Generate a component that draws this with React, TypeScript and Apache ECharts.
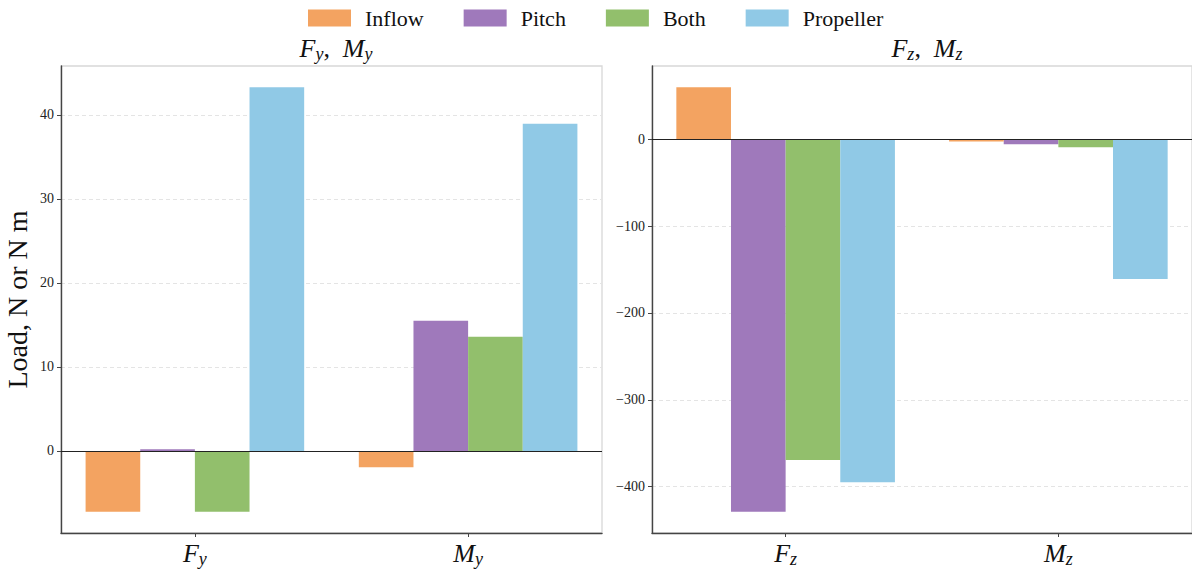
import React, { useEffect, useRef } from "react";
import * as echarts from "echarts";

const seriesNames = ["Inflow", "Pitch", "Both", "Propeller"];
const colors = ["#f3a361", "#9f79bb", "#92bf6c", "#90c9e6"];
const positions = [0, 1];
const leftLabels = [["F", "y"], ["M", "y"]];
const rightLabels = [["F", "z"], ["M", "z"]];

// Left panel (F_y, M_y)
const inflowLeft = [-7.25, -1.95];
const pitchLeft = [0.2, 15.5];
const bothLeft = [-7.25, 13.6];
const propellerLeft = [43.3, 38.95];

// Right panel (F_z, M_z)
const inflowRight = [60, -2.5];
const pitchRight = [-429, -5.7];
const bothRight = [-369.5, -9.2];
const propellerRight = [-395, -161];

const leftTicks = [0, 10, 20, 30, 40];
const rightTicks = [-400, -300, -200, -100, 0];

const FONT = "'Liberation Serif', serif";

function padExtent(arrs: number[][]) {
  const all = arrs.flat();
  let lo = Math.min(0, ...all);
  let hi = Math.max(0, ...all);
  const m = (hi - lo) * 0.05;
  return [lo - m, hi + m];
}

const richMath = {
  i: { fontFamily: FONT, fontStyle: "italic", fontWeight: "normal", fontSize: 26, color: "#111", lineHeight: 30, verticalAlign: "middle" },
  s: { fontFamily: FONT, fontStyle: "italic", fontWeight: "normal", fontSize: 18, color: "#111", lineHeight: 30, verticalAlign: "bottom" },
  c: { fontFamily: FONT, fontWeight: "normal", fontSize: 26, color: "#111", lineHeight: 30 },
};

export default function App() {
  const ref = useRef<HTMLDivElement>(null);
  useEffect(() => {
    if (!ref.current) return;
    const chart = echarts.init(ref.current, null, { renderer: "svg" });
    const leftExt = padExtent([inflowLeft, pitchLeft, bothLeft, propellerLeft]);
    const rightExt = padExtent([inflowRight, pitchRight, bothRight, propellerRight]);
    const xMin = -0.4 - 1.8 * 0.05;
    const xMax = 1.4 + 1.8 * 0.05;
    const barW = 541 * 0.2 / (xMax - xMin);

    const mkX = (gi: number, labels: string[][]) => ({
      type: "value",
      gridIndex: gi,
      min: xMin,
      max: xMax,
      splitLine: { show: false },
      axisLine: { show: true, onZero: false, lineStyle: { color: "#444", width: 1.4 } },
      axisTick: { show: true, customValues: positions, length: 4, lineStyle: { color: "#444", width: 1 } },
      axisLabel: {
        customValues: positions,
        margin: 5,
        fontFamily: FONT,
        formatter: (v: number) => {
          const idx = Math.round(v);
          const l = labels[idx];
          return l ? `{i|${l[0]}}{s|${l[1]}}` : "";
        },
        rich: richMath,
      },
    });
    const mkY = (gi: number, ext: number[], ticks: number[], withName: boolean) => ({
      type: "value",
      gridIndex: gi,
      min: ext[0],
      max: ext[1],
      name: withName ? "Load, N or N m" : "",
      nameLocation: "middle",
      nameGap: 30,
      nameRotate: 90,
      nameTextStyle: { fontFamily: FONT, fontSize: 28, color: "#111" },
      axisLine: { show: true, onZero: false, lineStyle: { color: "#444", width: 1.4 } },
      axisTick: { show: true, customValues: ticks, length: 4, lineStyle: { color: "#444", width: 1 } },
      axisLabel: {
        customValues: ticks,
        margin: 7,
        fontFamily: FONT,
        fontSize: 14,
        color: "#222",
        formatter: (v: number) => String(Math.round(v)).replace("-", "\u2212"),
      },
      splitLine: { show: true, lineStyle: { color: "#e4e4e4", type: [4, 3], width: 1 } },
    });

    const mkSeries = (gi: number, data: number[][]) =>
      data.map((vals, k) => ({
        name: seriesNames[k],
        type: "bar",
        xAxisIndex: gi,
        yAxisIndex: gi,
        barWidth: barW,
        barGap: "0%",
        itemStyle: { color: colors[k] },
        data: positions.map((p, j) => [p, vals[j]]),
        markLine:
          k === 0
            ? {
                silent: true,
                symbol: "none",
                label: { show: false },
                lineStyle: { color: "#222", width: 1.2, type: "solid" },
                data: [{ yAxis: 0 }],
              }
            : undefined,
        z: k === 0 ? 3 : 2,
      }));

    chart.setOption({
      animation: false,
      backgroundColor: "#fff",
      textStyle: { fontFamily: FONT },
      legend: {
        data: seriesNames,
        top: 2,
        left: 303,
        itemWidth: 43,
        itemHeight: 17,
        itemGap: 40,
        icon: "rect",
        textStyle: { fontFamily: FONT, fontSize: 22, color: "#111", padding: [0, 0, 0, 9] },
      },
      title: [
        {
          text: "{i|F}{s|y}{c|,  }{i|M}{s|y}",
          left: 331,
          top: 28,
          textAlign: "center",
          textStyle: { fontWeight: "normal", fontFamily: FONT, rich: richMath },
        },
        {
          text: "{i|F}{s|z}{c|,  }{i|M}{s|z}",
          left: 922,
          top: 28,
          textAlign: "center",
          textStyle: { fontWeight: "normal", fontFamily: FONT, rich: richMath },
        },
      ],
      grid: [
        { left: 61, top: 66, width: 541, height: 467, show: true, borderColor: "#d8d8d8", borderWidth: 1.3 },
        { left: 652, top: 66, width: 541, height: 467, show: true, borderColor: "#d8d8d8", borderWidth: 1.3 },
      ],
      xAxis: [mkX(0, leftLabels), mkX(1, rightLabels)],
      yAxis: [mkY(0, leftExt, leftTicks, true), mkY(1, rightExt, rightTicks, false)],
      series: [
        ...mkSeries(0, [inflowLeft, pitchLeft, bothLeft, propellerLeft]),
        ...mkSeries(1, [inflowRight, pitchRight, bothRight, propellerRight]),
      ],
    });
    return () => chart.dispose();
  }, []);
  return (
    <div
      ref={ref}
      style={{ position: "fixed", left: 0, top: 0, width: 1192, height: 572, background: "#fff" }}
    />
  );
}
